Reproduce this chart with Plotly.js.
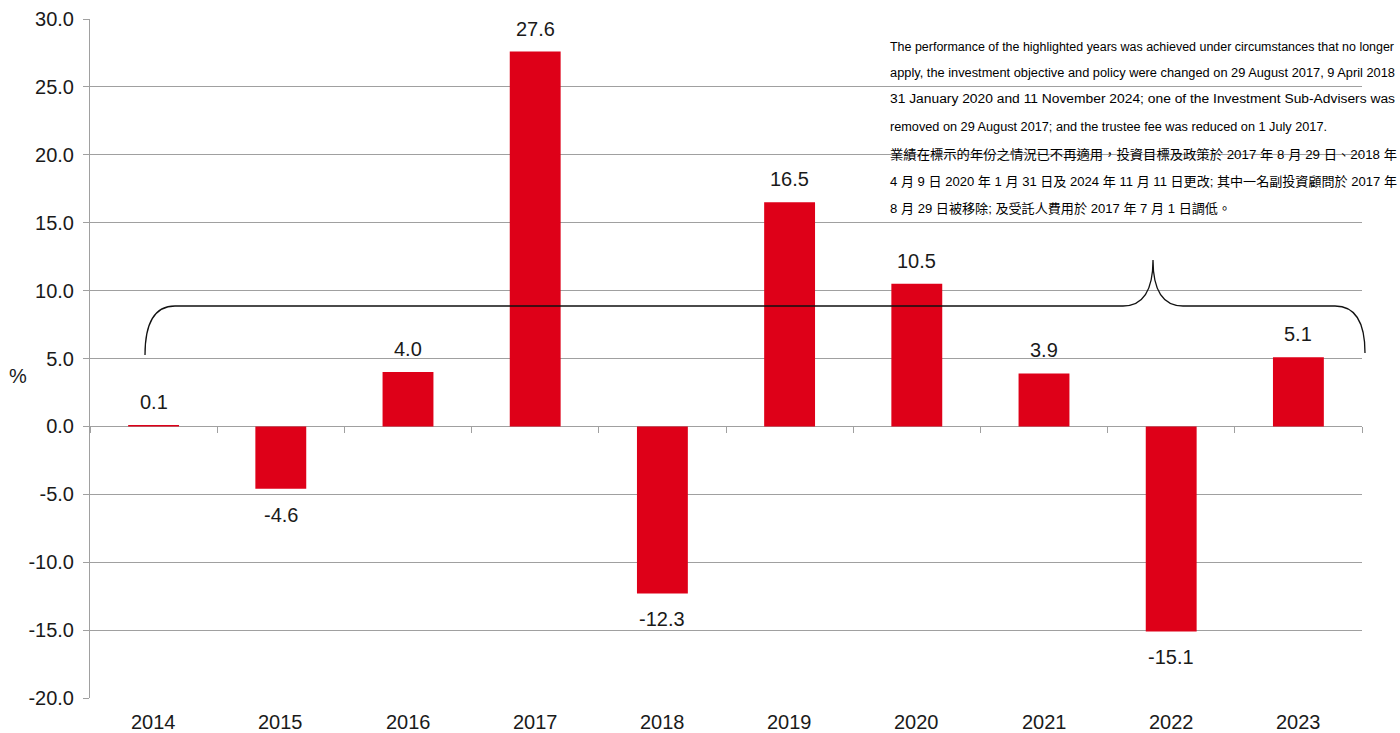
<!DOCTYPE html>
<html>
<head>
<meta charset="utf-8">
<script src="https://cdn.plot.ly/plotly-3.0.1.min.js"></script>
<style>html,body{margin:0;padding:0;background:#fff;}#chart{width:1400px;height:733px;}</style>
</head>
<body>
<div id="chart"></div>
<script>
const years = ['2014','2015','2016','2017','2018','2019','2020','2021','2022','2023'];
const returns = [0.1, -4.6, 4.0, 27.6, -12.3, 16.5, 10.5, 3.9, -15.1, 5.1];
const yTicks = [-20, -15, -10, -5, 0, 5, 10, 15, 20, 25, 30];
const yTickText = ['-20.0','-15.0','-10.0','-5.0','0.0','5.0','10.0','15.0','20.0','25.0','30.0'];
const noteLines = [
  'The performance of the highlighted years was achieved under circumstances that no longer',
  'apply, the investment objective and policy were changed on 29 August 2017, 9 April 2018',
  '31 January 2020 and 11 November 2024; one of the Investment Sub-Advisers was',
  'removed on 29 August 2017; and the trustee fee was reduced on 1 July 2017.',
  '業績在標示的年份之情況已不再適用，投資目標及政策於 2017 年 8 月 29 日、2018 年',
  '4 月 9 日 2020 年 1 月 31 日及 2024 年 11 月 11 日更改; 其中一名副投資顧問於 2017 年',
  '8 月 29 日被移除; 及受託人費用於 2017 年 7 月 1 日調低。'
];

const red = '#DE0018';
const grid = '#A0A0A0';
const mainFont = 'Liberation Sans, Arial, sans-serif';
const noteFont = '"Liberation Sans", Arial, "Noto Sans CJK TC", sans-serif';
const fs = 20;

const trace = {
  type: 'bar',
  x: years,
  y: returns,
  marker: {color: red},
  hoverinfo: 'x+y'
};

const valueAnn = years.map((yr, i) => ({
  x: i, y: returns[i], xref: 'x', yref: 'y',
  text: returns[i].toFixed(1),
  showarrow: false,
  yanchor: returns[i] >= 0 ? 'bottom' : 'top',
  yshift: returns[i] >= 0 ? 10 : -13,
  font: {family: mainFont, size: fs, color: '#1a1a1a'}
}));

const yearAnn = years.map((yr, i) => ({
  x: i, y: 0, xref: 'x', yref: 'paper', text: yr, showarrow: false,
  yanchor: 'top', yshift: -11,
  font: {family: mainFont, size: fs, color: '#1a1a1a'}
}));

// plot-area pixels: left 90, width 1272, top 19, bottom 698
const H = 679, B = 698;
const py = p => (B - p) / H;
const px = v => (v - 90) / 1272;
const noteLeft = 890;
const noteY = [47, 73, 99, 127, 155, 181, 208];
const noteRight = [1394, 1395, 1395, 1327, 1397, 1397, 1231];
const noteAnn = noteLines.map((t, i) => ({
  x: px(noteLeft), y: py(noteY[i]), xref: 'paper', yref: 'paper',
  xanchor: 'left', yanchor: 'middle', align: 'left',
  text: t, showarrow: false,
  font: {family: noteFont, size: i < 4 ? 12.5 : 13, color: '#000'}
}));

const pctAnn = {
  x: px(18), y: py(376), xref: 'paper', yref: 'paper', text: '%', showarrow: false,
  xanchor: 'center', yanchor: 'middle', font: {family: mainFont, size: fs, color: '#1a1a1a'}
};

const yl = py(355), yh = py(306), yp = py(260), yr = py(353);
const bracePath =
  `M ${px(145)},${yl} Q ${px(145)},${yh} ${px(175)},${yh} ` +
  `L ${px(1123)},${yh} Q ${px(1153)},${yh} ${px(1153)},${yp} ` +
  `Q ${px(1153)},${yh} ${px(1183)},${yh} ` +
  `L ${px(1335)},${yh} Q ${px(1365)},${yh} ${px(1365)},${yr}`;

const layout = {
  width: 1400, height: 733,
  margin: {l: 90, r: 38, t: 19, b: 35},
  paper_bgcolor: '#fff', plot_bgcolor: '#fff',
  showlegend: false,
  bargap: 0.6,
  font: {family: mainFont, size: fs, color: '#1a1a1a'},
  xaxis: {
    type: 'category', range: [-0.5, years.length - 0.5], autorange: false,
    anchor: 'free', position: 0.4,
    showgrid: false, zeroline: false, showline: false, showticklabels: false,
    ticks: 'outside', tickson: 'boundaries', ticklen: 6, tickcolor: grid, tickwidth: 1
  },
  yaxis: {
    range: [-20, 30], tickvals: yTicks, ticktext: yTickText,
    showgrid: true, gridcolor: grid, gridwidth: 1,
    zeroline: true, zerolinecolor: grid, zerolinewidth: 1,
    showline: true, linecolor: grid, linewidth: 1,
    ticks: 'outside', ticklen: 6, tickcolor: grid,
    tickfont: {family: mainFont, size: fs, color: '#1a1a1a'},
    ticklabelstandoff: 5
  },
  shapes: [{
    type: 'path', xref: 'paper', yref: 'paper', path: bracePath,
    line: {color: '#111', width: 1.3}
  }],
  annotations: [...valueAnn, ...yearAnn, ...noteAnn, pctAnn]
};

const noteStart = valueAnn.length + yearAnn.length;
Plotly.newPlot('chart', [trace], layout, {displayModeBar: false, staticPlot: true}).then(gd => {
  const host = gd.getBoundingClientRect();
  noteLines.forEach((t, i) => {
    const g = gd.querySelector(`g.annotation[data-index="${noteStart + i}"]`);
    if (!g) return;
    const el = g.querySelector('text.annotation-text');
    if (!el) return;
    const w = noteRight[i] - noteLeft;
    el.setAttribute('textLength', w);
    el.setAttribute('lengthAdjust', 'spacingAndGlyphs');
    const r = el.getBoundingClientRect();
    const dx = noteLeft - (r.left - host.left);
    const prev = el.getAttribute('transform') || '';
    el.setAttribute('transform', `translate(${dx},0) ${prev}`);
  });
});
</script>
</body>
</html>
